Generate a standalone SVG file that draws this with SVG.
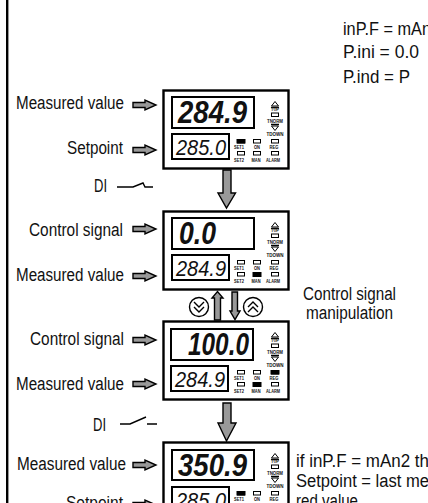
<svg xmlns="http://www.w3.org/2000/svg" width="428" height="503" viewBox="0 0 428 503">
<style>
text{font-family:"Liberation Sans",Arial,sans-serif;fill:#111}
.l{font-size:18px}
.big{font-size:32px;font-weight:bold;font-style:italic}
.sm{font-size:22px;font-style:italic}
.t{font-size:4.500px;font-weight:bold;text-anchor:middle}
.box{fill:#fff;stroke:#000;stroke-width:2.400}
.d{fill:#fff;stroke:#000;stroke-width:2}
.ar{fill:#999;stroke:#000;stroke-width:1.400}
.led{fill:#fff;stroke:#000;stroke-width:1}
.on{fill:#000}
.sw{fill:none;stroke:#000;stroke-width:1.400}
</style>
<defs>
<path id="ha" class="ar" d="M0 -2.500H12V-5L23 0L12 5V2.500H0Z"/>
<g id="panel">
<path class="led" d="M271.500 16H278.500L275 11.500Z"/>
<rect class="led" x="271.500" y="23" width="7" height="3.500"/>
<path class="led" d="M271.500 36H278.500L275 40.500Z"/>
<path class="sw" d="M271 17.500H279M271 34.500H279"/>
<text class="t" x="275" y="21" textLength="8" lengthAdjust="spacingAndGlyphs">TUP</text>
<text class="t" x="275" y="33" textLength="16" lengthAdjust="spacingAndGlyphs">TNORM</text>
<text class="t" x="275" y="46" textLength="17" lengthAdjust="spacingAndGlyphs">TDOWN</text>
<rect class="led" x="237.500" y="49.500" width="7" height="3.500"/>
<rect class="led" x="253.500" y="49.500" width="7" height="3.500"/>
<rect class="led" x="271.500" y="49.500" width="7" height="3.500"/>
<rect class="led" x="237.500" y="61.500" width="7" height="3.500"/>
<rect class="led" x="253.500" y="61.500" width="7" height="3.500"/>
<rect class="led" x="271.500" y="61.500" width="7" height="3.500"/>
<text class="t" x="239" y="59" textLength="10" lengthAdjust="spacingAndGlyphs">SET1</text>
<text class="t" x="257" y="59" textLength="6" lengthAdjust="spacingAndGlyphs">ON</text>
<text class="t" x="274" y="59" textLength="9" lengthAdjust="spacingAndGlyphs">REG</text>
<text class="t" x="239" y="72" textLength="10" lengthAdjust="spacingAndGlyphs">SET2</text>
<text class="t" x="256" y="72" textLength="9" lengthAdjust="spacingAndGlyphs">MAN</text>
<text class="t" x="273" y="72" textLength="14" lengthAdjust="spacingAndGlyphs">ALARM</text>
</g>
</defs>
<rect x="6" y="-4" width="2.400" height="510" fill="#000"/>
<g id="params">
<text class="l" x="343" y="35" textLength="88" lengthAdjust="spacingAndGlyphs">inP.F = mAn</text>
<text class="l" x="343" y="58" textLength="76" lengthAdjust="spacingAndGlyphs">P.ini = 0.0</text>
<text class="l" x="343" y="83" textLength="67" lengthAdjust="spacingAndGlyphs">P.ind = P</text>
</g>

<g id="device1">
<rect class="box" x="163.500" y="90.500" width="125" height="78"/>
<rect class="d" x="172" y="97" width="82" height="31"/>
<rect class="d" x="172" y="134" width="57" height="25"/>
<text class="big" x="178" y="123" textLength="69" lengthAdjust="spacingAndGlyphs">284.9</text>
<text class="sm" x="176" y="155" textLength="50" lengthAdjust="spacingAndGlyphs">285.0</text>
<use href="#panel" y="90"/>
<rect class="on" x="236.500" y="139" width="9" height="4.500"/>
</g>
<g id="device2">
<rect class="box" x="163.500" y="211.500" width="125" height="78"/>
<rect class="d" x="172" y="218" width="82" height="31"/>
<rect class="d" x="172" y="255" width="57" height="25"/>
<text class="big" x="179" y="244" textLength="37" lengthAdjust="spacingAndGlyphs">0.0</text>
<text class="sm" x="176" y="276" textLength="50" lengthAdjust="spacingAndGlyphs">284.9</text>
<use href="#panel" y="211"/>
<rect class="on" x="252.500" y="272" width="9" height="5"/>
</g>
<g id="device3">
<rect class="box" x="163.500" y="321.500" width="125" height="78"/>
<rect class="d" x="171" y="329" width="82" height="31"/>
<rect class="d" x="171" y="366" width="57" height="25"/>
<text class="big" x="188" y="355" textLength="61" lengthAdjust="spacingAndGlyphs">100.0</text>
<text class="sm" x="175" y="387" textLength="50" lengthAdjust="spacingAndGlyphs">284.9</text>
<use href="#panel" y="321"/>
<rect class="on" x="252.500" y="382" width="9" height="5"/>
<rect class="on" x="270.500" y="370" width="9" height="4.500"/>
</g>
<g id="device4">
<rect class="box" x="163.500" y="442.500" width="125" height="78"/>
<rect class="d" x="172" y="450" width="82" height="30"/>
<rect class="d" x="172" y="487" width="57" height="25"/>
<text class="big" x="178" y="476" textLength="69" lengthAdjust="spacingAndGlyphs">350.9</text>
<text class="sm" x="176" y="508" textLength="50" lengthAdjust="spacingAndGlyphs">285.0</text>
<use href="#panel" y="442"/>
<rect class="on" x="236.500" y="491" width="9" height="4.500"/>
</g>

<g id="connectors">
<use href="#ha" x="133" y="105"/><use href="#ha" x="133" y="150"/>
<use href="#ha" x="133" y="229"/><use href="#ha" x="133" y="276"/>
<use href="#ha" x="133" y="340"/><use href="#ha" x="133" y="384"/>
<use href="#ha" x="133" y="465"/><use href="#ha" x="133" y="505"/>
<path class="ar" d="M223 170V193H218L226.500 208L235.500 193H231V170Z"/>
<path class="ar" d="M223 403V423H218L226.500 441L236 423H231V403Z"/>
<path class="ar" d="M214.500 320V298H212L217.500 291.500L223 298H220.500V320Z"/>
<path class="ar" d="M232 292V311H230L235 319.500L240 311H237.500V292Z"/>
<g id="di1"><path class="sw" d="M117 187H133L143 183L145 187H153"/></g>
<g id="di2"><path class="sw" d="M120 424H130L146 417M147 424H157"/></g>
<g id="btn1"><circle class="sw" cx="199" cy="307" r="9.500"/><path class="sw" d="M194 302L199 307L204 302M194 307L199 312L204 307"/></g>
<g id="btn2"><circle class="sw" cx="253" cy="307" r="9.500"/><path class="sw" d="M248 307L253 302L258 307M248 312L253 307L258 312"/></g>
</g>

<g id="labels">
<text class="l" x="16" y="109" textLength="108" lengthAdjust="spacingAndGlyphs">Measured value</text>
<text class="l" x="67" y="154" textLength="56" lengthAdjust="spacingAndGlyphs">Setpoint</text>
<text class="l" x="94" y="192" textLength="13" lengthAdjust="spacingAndGlyphs">DI</text>
<text class="l" x="29" y="236" textLength="94" lengthAdjust="spacingAndGlyphs">Control signal</text>
<text class="l" x="16" y="281" textLength="108" lengthAdjust="spacingAndGlyphs">Measured value</text>
<text class="l" x="303" y="300" textLength="93" lengthAdjust="spacingAndGlyphs">Control signal</text>
<text class="l" x="306" y="319" textLength="87" lengthAdjust="spacingAndGlyphs">manipulation</text>
<text class="l" x="30" y="345" textLength="94" lengthAdjust="spacingAndGlyphs">Control signal</text>
<text class="l" x="16" y="390" textLength="108" lengthAdjust="spacingAndGlyphs">Measured value</text>
<text class="l" x="93" y="431" textLength="13" lengthAdjust="spacingAndGlyphs">DI</text>
<text class="l" x="17" y="470" textLength="109" lengthAdjust="spacingAndGlyphs">Measured value</text>
<text class="l" x="66" y="509" textLength="57" lengthAdjust="spacingAndGlyphs">Setpoint</text>
<text class="l" x="296" y="467" textLength="133" lengthAdjust="spacingAndGlyphs">if inP.F = mAn2 th</text>
<text class="l" x="296" y="487" textLength="133" lengthAdjust="spacingAndGlyphs">Setpoint = last me</text>
<text class="l" x="296" y="507" textLength="62" lengthAdjust="spacingAndGlyphs">red value</text>
</g>
</svg>
